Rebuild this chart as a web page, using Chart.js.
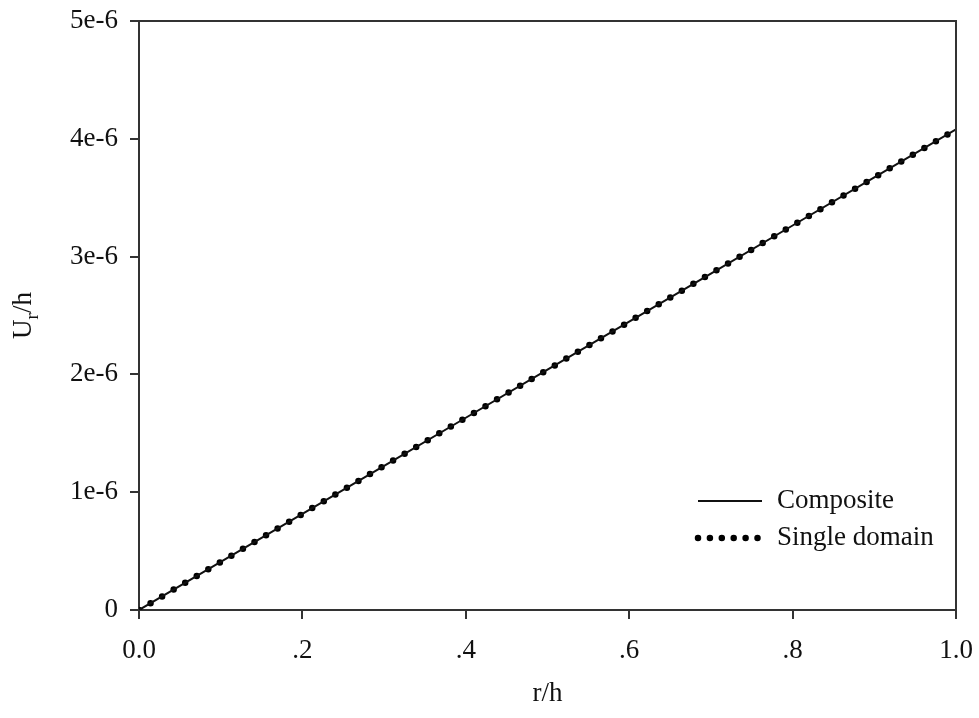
<!DOCTYPE html>
<html>
<head>
<meta charset="utf-8">
<script src="https://cdn.jsdelivr.net/npm/chart.js@4"></script>
<style>
  body { margin: 0; background: #fff; }
  #wrap { width: 979px; height: 718px; }
</style>
</head>
<body>
<div id="wrap"><canvas id="ur"></canvas></div>
<script>
// values (U_r/h against r/h)
var r_h = [0, 0.1, 0.2, 0.3, 0.4, 0.5, 0.6, 0.7, 0.8, 0.9, 1.0];
var composite = [0, 0.408e-6, 0.816e-6, 1.224e-6, 1.632e-6, 2.04e-6, 2.448e-6, 2.856e-6, 3.264e-6, 3.672e-6, 4.08e-6];
var singleDomain = [0, 0.408e-6, 0.816e-6, 1.224e-6, 1.632e-6, 2.04e-6, 2.448e-6, 2.856e-6, 3.264e-6, 3.672e-6, 4.08e-6];
var seriesNames = ['Composite', 'Single domain'];
var xTicks = ['0.0', '.2', '.4', '.6', '.8', '1.0'];
var yTicks = ['0', '1e-6', '2e-6', '3e-6', '4e-6', '5e-6'];

var FONT = '"Liberation Serif", "Times New Roman", serif';
var FS = 27;

function pts(ys) {
    var out = [];
    for (let i = 0; i < r_h.length; i++) out.push({ x: r_h[i], y: ys[i] });
    return out;
}

// box on top/right, axis titles (with subscript) and the legend inside the plot
var extras = {
    id: 'extras',
    afterDraw: function (chart) {
        var c = chart.ctx, a = chart.chartArea;
        c.save();
        c.strokeStyle = '#333';
        c.lineWidth = 2;
        c.beginPath();
        c.moveTo(a.left, a.top);
        c.lineTo(a.right, a.top);
        c.lineTo(a.right, a.bottom);
        c.stroke();

        c.fillStyle = '#111';
        c.font = FS + 'px ' + FONT;
        c.textBaseline = 'middle';
        c.textAlign = 'center';
        c.fillText('r/h', (a.left + a.right) / 2, 694);

        // y title U_r/h rotated
        c.save();
        c.translate(24, (a.top + a.bottom) / 2);
        c.rotate(-Math.PI / 2);
        c.textAlign = 'left';
        var wU = c.measureText('U').width;
        c.font = '19px ' + FONT;
        var wr = c.measureText('r').width;
        c.font = FS + 'px ' + FONT;
        var wh = c.measureText('/h').width;
        var x0 = -(wU + wr + wh) / 2;
        c.fillText('U', x0, 0);
        c.font = '19px ' + FONT;
        c.fillText('r', x0 + wU, 9);
        c.font = FS + 'px ' + FONT;
        c.fillText('/h', x0 + wU + wr, 0);
        c.restore();

        // legend
        var ds = chart.data.datasets;
        var rows = [501, 538];
        c.textAlign = 'left';
        c.font = FS + 'px ' + FONT;
        for (let i = 0; i < ds.length; i++) {
            c.save();
            c.strokeStyle = ds[i].borderColor;
            c.lineWidth = ds[i].borderWidth;
            c.lineCap = ds[i].borderCapStyle || 'butt';
            c.setLineDash(i === 0 ? [] : [0, 11.9]);
            c.beginPath();
            c.moveTo(698, rows[i]);
            c.lineTo(i === 0 ? 762 : 758, rows[i]);
            c.stroke();
            c.restore();
            c.fillText(ds[i].label, 777, rows[i]);
        }
        c.restore();
    }
};

var ctx = document.getElementById('ur').getContext('2d');
var chart = new Chart(ctx, {
    type: 'line',
    data: {
        datasets: [{
            label: seriesNames[0],
            data: pts(composite),
            borderColor: '#111',
            borderWidth: 2,
            pointRadius: 0,
            tension: 0
        }, {
            label: seriesNames[1],
            data: pts(singleDomain),
            borderColor: '#000',
            borderWidth: 6.5,
            borderDash: [0, 13.4],
            borderCapStyle: 'round',
            pointRadius: 0,
            tension: 0
        }]
    },
    options: {
        responsive: true,
        maintainAspectRatio: false,
        animation: false,
        layout: { padding: { left: 0, top: 21, right: 23, bottom: 0 } },
        scales: {
            x: {
                type: 'linear',
                min: 0,
                max: 1,
                afterFit: function (s) { s.height = 108; s.paddingLeft = 0; s.paddingRight = 0; },
                afterBuildTicks: function (s) {
                    s.ticks = xTicks.map(function (t, i) { return { value: i * 0.2 }; });
                },
                ticks: {
                    color: '#111',
                    font: { family: FONT, size: FS },
                    padding: 16,
                    maxRotation: 0,
                    callback: function (v, i) { return xTicks[i]; }
                },
                grid: { drawOnChartArea: false, tickLength: 9, color: '#333', lineWidth: 2 },
                border: { color: '#333', width: 2 }
            },
            y: {
                type: 'linear',
                min: 0,
                max: 5e-6,
                afterFit: function (s) { s.width = 139; s.paddingTop = 0; s.paddingBottom = 0; },
                afterBuildTicks: function (s) {
                    s.ticks = yTicks.map(function (t, i) { return { value: i * 1e-6 }; });
                },
                ticks: {
                    color: '#111',
                    font: { family: FONT, size: FS },
                    padding: 12,
                    callback: function (v, i) { return yTicks[i]; }
                },
                grid: { drawOnChartArea: false, tickLength: 9, color: '#333', lineWidth: 2 },
                border: { color: '#333', width: 2 }
            }
        },
        plugins: {
            legend: { display: false },
            tooltip: { enabled: false }
        }
    },
    plugins: [extras]
});
</script>
</body>
</html>
